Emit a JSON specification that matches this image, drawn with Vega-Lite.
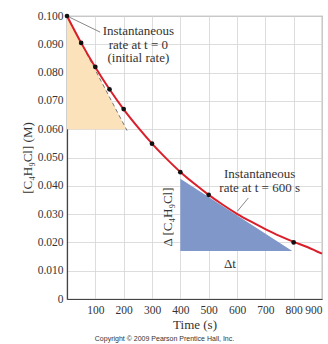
{
  "$schema": "https://vega.github.io/schema/vega-lite/v6.json",
  "width": 255,
  "height": 283,
  "autosize": "none",
  "padding": {"left": 67, "top": 16, "right": 6, "bottom": 45},
  "background": "white",
  "config": {
    "font": "Liberation Serif",
    "view": {"stroke": "#9a9a9a", "strokeWidth": 1.2},
    "axis": {"grid": true, "gridColor": "#d4d4d4", "gridWidth": 0.8, "ticks": false, "labelOverlap": false, "labelFlush": false, "domainColor": "#444", "domainWidth": 1.2, "labelFont": "Liberation Serif", "labelFontSize": 11.5, "labelColor": "#333", "titleFont": "Liberation Serif", "titleFontSize": 13, "titleFontWeight": "normal", "titleColor": "#333"}
  },
  "title": {"text": "Copyright © 2009 Pearson Prentice Hall, Inc.", "orient": "bottom", "font": "Liberation Sans", "fontSize": 7, "fontWeight": "normal", "color": "#333", "offset": 3, "anchor": "middle", "dx": -30},
  "datasets": {
    "curve": [
      {"t": 0, "c": 0.1}, {"t": 50, "c": 0.0905}, {"t": 100, "c": 0.0819}, {"t": 150, "c": 0.0741},
      {"t": 200, "c": 0.067}, {"t": 250, "c": 0.0607}, {"t": 300, "c": 0.0549}, {"t": 350, "c": 0.0497},
      {"t": 400, "c": 0.0449}, {"t": 450, "c": 0.0407}, {"t": 500, "c": 0.0368}, {"t": 550, "c": 0.0333},
      {"t": 600, "c": 0.0301}, {"t": 650, "c": 0.0273}, {"t": 700, "c": 0.0247}, {"t": 750, "c": 0.0223},
      {"t": 800, "c": 0.0202}, {"t": 850, "c": 0.0183}, {"t": 900, "c": 0.016}
    ],
    "points": [
      {"t": 0, "c": 0.1}, {"t": 50, "c": 0.0905}, {"t": 100, "c": 0.082}, {"t": 150, "c": 0.0741},
      {"t": 200, "c": 0.0671}, {"t": 300, "c": 0.0549}, {"t": 400, "c": 0.0448}, {"t": 500, "c": 0.0368},
      {"t": 800, "c": 0.02}
    ],
    "triangles": [
      {"tri": "initial", "t": 0, "c": 0.1, "base": 0.06},
      {"tri": "initial", "t": 210, "c": 0.06, "base": 0.06},
      {"tri": "t600", "t": 400, "c": 0.0425, "base": 0.017},
      {"tri": "t600", "t": 795, "c": 0.017, "base": 0.017}
    ],
    "dashed": [{"t": 0, "c": 0.1, "t2": 212, "c2": 0.0595}],
    "leaders": [
      {"t": 0, "c": 0.1, "t2": 117, "c2": 0.0943},
      {"t": 640, "c": 0.0357, "t2": 602, "c2": 0.0311}
    ],
    "labels": [
      {"t": 252, "c": 0.0948, "txt": "Instantaneous"},
      {"t": 252, "c": 0.0899, "txt": "rate at t = 0"},
      {"t": 252, "c": 0.0851, "txt": "(initial rate)"},
      {"t": 680, "c": 0.0443, "txt": "Instantaneous"},
      {"t": 680, "c": 0.0392, "txt": "rate at t = 600 s"},
      {"t": 575, "c": 0.0125, "txt": "Δt"}
    ],
    "vlabel": [{"t": 355, "c": 0.029, "txt": "Δ [C₄H₉Cl]"}]
  },
  "encoding": {
    "x": {"field": "t", "type": "quantitative", "scale": {"domain": [0, 900], "nice": false}, "axis": {"values": [0, 100, 200, 300, 400, 500, 600, 700, 800, 900], "labelExpr": "datum.value == 0 ? '' : datum.label", "labelFlush": true, "title": "Time (s)", "titlePadding": 3, "labelPadding": 5}},
    "y": {"field": "c", "type": "quantitative", "scale": {"domain": [0, 0.1], "nice": false}, "axis": {"values": [0, 0.01, 0.02, 0.03, 0.04, 0.05, 0.06, 0.07, 0.08, 0.09, 0.1], "labelExpr": "datum.value == 0 ? '0' : format(datum.value, '.3f')", "title": "[C₄H₉Cl] (M)", "titlePadding": 3, "labelPadding": 4}}
  },
  "layer": [
    {
      "data": {"name": "triangles"},
      "mark": {"type": "area", "opacity": 1},
      "encoding": {
        "y2": {"field": "base"},
        "color": {"field": "tri", "type": "nominal", "scale": {"domain": ["initial", "t600"], "range": ["#fbe2ba", "#7f97c9"]}, "legend": null},
        "detail": {"field": "tri"}
      }
    },
    {
      "data": {"name": "dashed"},
      "mark": {"type": "rule", "color": "#777", "strokeDash": [4, 3], "strokeWidth": 1},
      "encoding": {"x2": {"field": "t2"}, "y2": {"field": "c2"}}
    },
    {
      "data": {"name": "leaders"},
      "mark": {"type": "rule", "color": "#888", "strokeWidth": 1},
      "encoding": {"x2": {"field": "t2"}, "y2": {"field": "c2"}}
    },
    {
      "data": {"name": "curve"},
      "mark": {"type": "line", "color": "#d91f2a", "strokeWidth": 2, "interpolate": "monotone"},
      "encoding": {}
    },
    {
      "data": {"name": "points"},
      "mark": {"type": "point", "filled": true, "color": "#111", "size": 22, "opacity": 1},
      "encoding": {}
    },
    {
      "data": {"name": "labels"},
      "mark": {"type": "text", "font": "Liberation Serif", "fontSize": 13, "color": "#333", "align": "center", "baseline": "middle"},
      "encoding": {"text": {"field": "txt"}}
    },
    {
      "data": {"name": "vlabel"},
      "mark": {"type": "text", "font": "Liberation Serif", "fontSize": 13, "color": "#333", "align": "center", "baseline": "middle", "angle": 270},
      "encoding": {"text": {"field": "txt"}}
    }
  ]
}
